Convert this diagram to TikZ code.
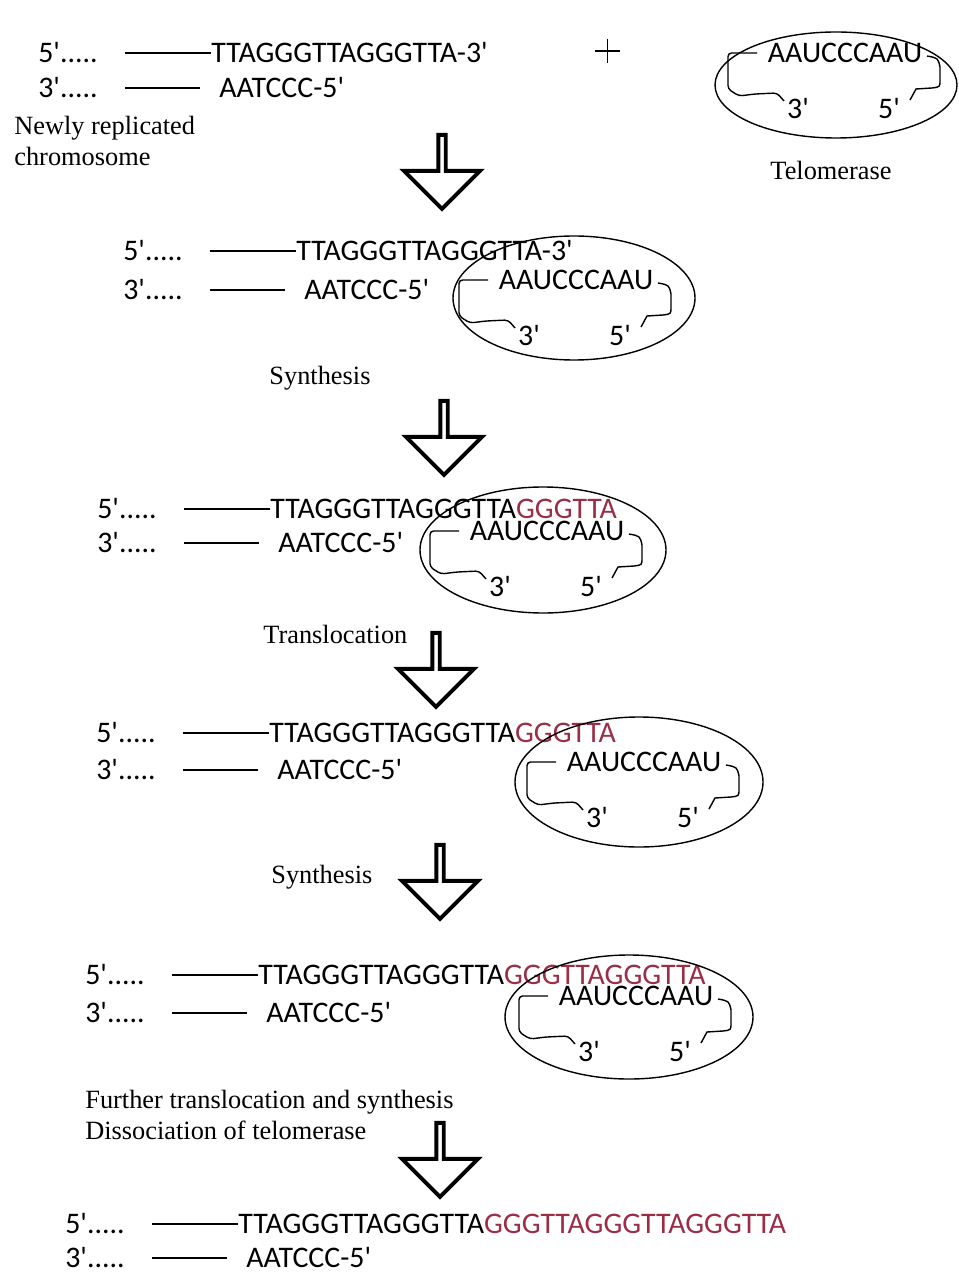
\documentclass[tikz,border=0pt]{standalone}
\usepackage{fontspec}
\setmainfont{Liberation Serif}
\newfontfamily\seqfont{Carlito}
\usetikzlibrary{shapes.arrows, positioning}
\definecolor{newdna}{RGB}{155, 45, 70}

\tikzset{
    dna/.style={font=\seqfont\fontsize{17}{20}\selectfont, inner sep=0pt, anchor=west},
    caption/.style={font=\fontsize{15}{17.5}\selectfont, inner sep=0pt, align=left},
    bigarrow/.style={single arrow, draw, line width=2.2pt, shape border rotate=270,
        minimum height=1.48cm, minimum width=1.52cm, single arrow head extend=0.36cm, inner sep=0pt},
    strand/.style={line width=0.9pt},
    enzyme/.style={line width=0.8pt},
}

% chromosome end: name, left x, y of top strand, y of bottom strand, top sequence
\newcommand{\duplex}[5]{%
    \node[dna] (#1-p5) at (#2,#3) {5'.....};
    \node[dna] (#1-top) at (#2+173,#3) {#5};
    \node[dna] (#1-p3) at (#2,#4) {3'.....};
    \node[dna] (#1-bot) at (#2+181,#4) {AATCCC-5'};
    \draw[strand] ([xshift=0.54cm]#1-p5.east) -- (#1-top.west);
    \draw[strand] ([xshift=0.54cm]#1-p3.east) -- ([xshift=-0.38cm]#1-bot.west);
}

% telomerase: name, template centre, enzyme centre, x radius, y radius
\newcommand{\telomerase}[7]{%
    \draw[enzyme] (#4,#5) ellipse [x radius=#6, y radius=#7];
    \node[dna, anchor=center] (#1) at (#2,#3) {AAUCCCAAU};
    \begin{scope}[shift={(#2,#3)}]
        \node[dna, anchor=center] (#1-3) at (-47,56) {3'};
        \node[dna, anchor=center] (#1-5) at (44,56) {5'};
        \draw[enzyme, rounded corners=2pt] (-88,0) -- (-117,0) -- (-117,36) -- (-106,43)
            -- (-90,41) -- (-68,40) -- (-61,48);
        \draw[enzyme] (82,3) .. controls (93,5) .. (95,14) -- (95,27)
            .. controls (95,34) .. (87,35) -- (71,36) -- (65,47);
    \end{scope}
}

\begin{document}
\begin{tikzpicture}[x=0.02cm, y=-0.02cm]
    \useasboundingbox (0,0) rectangle (958,1273);

    % Newly replicated chromosome and telomerase
    \duplex{a}{38}{53}{88}{TTAGGGTTAGGGTTA-3'}
    \node[caption, anchor=west] (newly) at (14,141) {Newly replicated\\chromosome};
    \draw[enzyme] (595,51) -- (620,51);
    \draw[enzyme] (607.5,39) -- (607.5,63);
    \telomerase{ta}{845}{53}{836}{85}{121}{53}
    \node[caption] (telo) at (831,170) {Telomerase};
    \node[bigarrow] (arr1) at (442,170) {};

    % Binding
    \duplex{b}{123}{251}{290}{TTAGGGTTAGGGTTA-3'}
    \telomerase{tb}{576}{280}{574}{298}{121}{62}
    \node[caption] (synth1) at (320,378) {Synthesis};
    \node[bigarrow] (arr2) at (444,436) {};

    % Synthesis
    \duplex{c}{97}{509}{543}{TTAGGGTTAGGGTTA\textcolor{newdna}{GGGTTA}}
    \telomerase{tc}{547}{531}{543}{550}{123}{63}
    \node[caption, anchor=west] (transl) at (263,634) {Translocation};
    \node[bigarrow] (arr3) at (436,668) {};

    % Translocation
    \duplex{d}{96}{733}{770}{TTAGGGTTAGGGTTA\textcolor{newdna}{GGGTTA}}
    \telomerase{td}{644}{762}{639}{782}{124}{65}
    \node[caption, anchor=west] (synth2) at (271,877) {Synthesis};
    \node[bigarrow] (arr4) at (440,880) {};

    % Second synthesis
    \duplex{e}{85}{975}{1013}{TTAGGGTTAGGGTTA\textcolor{newdna}{GGGTTAGGGTTA}}
    \telomerase{te}{636}{996}{629}{1017}{124}{62}
    \node[caption, anchor=west] (further) at (85,1115) {Further translocation and synthesis\\Dissociation of telomerase};
    \node[bigarrow] (arr5) at (440,1158) {};

    % Extended chromosome
    \duplex{f}{65}{1224}{1258}{TTAGGGTTAGGGTTA\textcolor{newdna}{GGGTTAGGGTTAGGGTTA}}
\end{tikzpicture}
\end{document}
